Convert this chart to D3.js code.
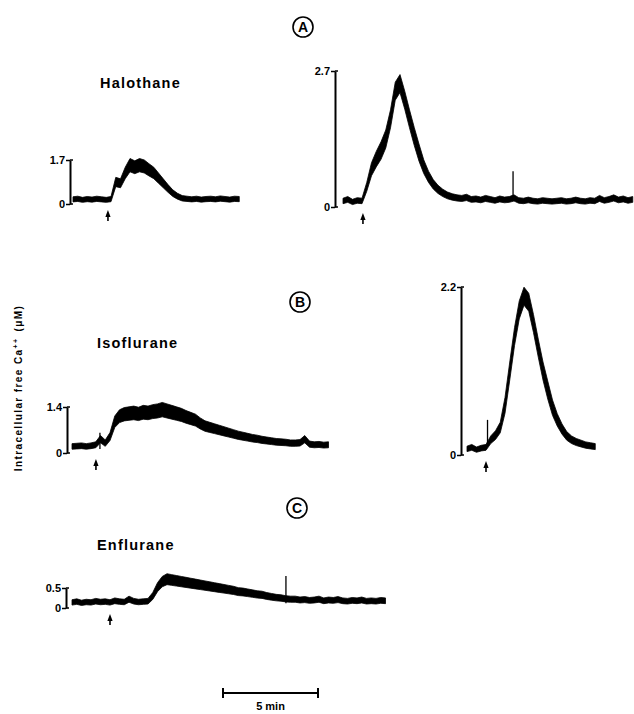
<!DOCTYPE html>
<html>
<head>
<meta charset="utf-8">
<script src="https://cdn.jsdelivr.net/npm/d3@7"></script>
<style>
body { margin: 0; background: #fff; }
svg { display: block; font-family: "Liberation Sans", Arial, sans-serif; }
</style>
</head>
<body>
<svg id="chart"></svg>
<script>
// sampling interval of the traces, minutes
const step = 0.25

// intracellular free Ca2+ (uM)
const halothaneLow = [0.18, 0.2, 0.16, 0.19, 0.17, 0.2, 0.18, 0.16, 0.19,
    0.85, 0.8, 1.2, 1.5, 1.42, 1.5, 1.45, 1.32, 1.2, 1.0, 0.8, 0.6, 0.42, 0.3, 0.22,
    0.2, 0.18, 0.2, 0.17, 0.19, 0.2, 0.18, 0.21, 0.19, 0.17, 0.2, 0.19]
const halothaneHigh = [0.12, 0.15, 0.1, 0.13, 0.12,
    0.4, 0.75, 0.95, 1.12, 1.35, 1.75, 2.3, 2.45, 2.12, 1.75, 1.4, 1.08, 0.8, 0.6, 0.45, 0.35, 0.28, 0.23,
    0.2, 0.18, 0.17, 0.19, 0.15, 0.16, 0.14, 0.17, 0.15, 0.13, 0.16, 0.14, 0.15, 0.18, 0.13,
    0.12, 0.14, 0.12, 0.11, 0.13, 0.12, 0.11, 0.12, 0.13, 0.11, 0.12, 0.14, 0.12, 0.11, 0.13,
    0.12, 0.17, 0.13, 0.15, 0.18, 0.14, 0.16, 0.13, 0.15]
const isofluraneLow = [0.2, 0.21, 0.22, 0.2, 0.22, 0.25,
    0.42, 0.3, 0.5, 0.95, 1.12, 1.18, 1.2, 1.22, 1.19, 1.24, 1.22, 1.26, 1.28, 1.32,
    1.28, 1.24, 1.2, 1.16, 1.1, 1.05, 1.0, 0.9, 0.82, 0.78, 0.74, 0.7, 0.66, 0.62, 0.58,
    0.54, 0.51, 0.48, 0.45, 0.43, 0.4, 0.38, 0.36, 0.34, 0.33, 0.32, 0.3, 0.3, 0.31, 0.42,
    0.27, 0.25, 0.26, 0.24, 0.25]
const isofluraneHigh = [0.08, 0.1, 0.07, 0.09, 0.1, 0.2, 0.26, 0.36, 0.65, 1.1, 1.55, 1.9, 2.08, 2.0,
    1.72, 1.4, 1.1, 0.85, 0.62, 0.46, 0.34, 0.25, 0.2, 0.17, 0.15, 0.13, 0.12, 0.11]
const enflurane = [0.14, 0.16, 0.13, 0.15, 0.14, 0.17, 0.15, 0.16, 0.14, 0.18, 0.16, 0.15, 0.22, 0.17, 0.15, 0.16, 0.17,
    0.3, 0.52, 0.66, 0.72, 0.7, 0.68, 0.66, 0.64, 0.62, 0.6, 0.58, 0.56, 0.54, 0.52, 0.5, 0.48, 0.46,
    0.44, 0.41, 0.4, 0.38, 0.36, 0.34, 0.33, 0.3, 0.28, 0.26, 0.25, 0.23, 0.22, 0.22, 0.2,
    0.21, 0.19, 0.2, 0.22, 0.18, 0.2, 0.19, 0.21, 0.18, 0.17, 0.19, 0.18, 0.2, 0.17, 0.18, 0.17, 0.19, 0.18]

const traces = [halothaneLow, halothaneHigh, isofluraneLow, isofluraneHigh, enflurane]
const calibMax = [1.7, 2.7, 1.4, 2.2, 0.5]
// time of anaesthetic addition (arrow), minutes from trace start
const stimulusTimes = [1.84, 1.05, 1.26, 1.0, 2.0]
// single sharp artefacts on the traces: [minutes, uM]
const spikes = [[], [[8.95, 0.71]], [[1.47, 0.62]], [[1.08, 0.46]], [[11.26, 0.8]]]

const titles = ['Halothane', 'Isoflurane', 'Enflurane']
const sectionLetters = ['A', 'B', 'C']
const yLabel = 'Intracellular free Ca'
const scaleBarMinutes = 5
const scaleBarLabel = '5 min'

// layout
const svgWidth = 634
const svgHeight = 714
const pxPerMin = 19

const panels = [
    { axisX: 70, x0: 73, yZero: 204, yTop: 160 },
    { axisX: 335, x0: 343, yZero: 207, yTop: 71 },
    { axisX: 67, x0: 72, yZero: 453, yTop: 407 },
    { axisX: 461, x0: 467, yZero: 455, yTop: 287 },
    { axisX: 66, x0: 72, yZero: 608, yTop: 588 }
]
const titlePos = [[100, 88], [97, 348], [97, 550]]
const letterPos = [[303, 27], [300, 302], [297, 508]]

const svg = d3.select('#chart')
    .attr('width', svgWidth)
    .attr('height', svgHeight)

traces.forEach((values, index) => {
    const p = panels[index]
    const dur = (values.length - 1) * step

    const x = d3.scaleLinear()
        .domain([0, dur])
        .range([p.x0, p.x0 + dur * pxPerMin])
    const y = d3.scaleLinear()
        .domain([0, calibMax[index]])
        .range([p.yZero, p.yTop])

    // noise band gets wider with the signal
    const halfWidth = d => Math.min(9, 2 + 0.12 * (y(0) - y(d)))

    const area = d3.area()
        .x((d, i) => x(i * step))
        .y0(d => y(d) + halfWidth(d))
        .y1(d => y(d) - halfWidth(d))

    svg.append('path')
        .datum(values)
        .attr('d', area)
        .attr('fill', '#000')
        .attr('stroke', '#000')
        .attr('stroke-width', 0.8)
        .attr('stroke-linejoin', 'round')

    svg.selectAll(null)
        .data(spikes[index])
        .enter()
        .append('line')
        .attr('x1', d => x(d[0]))
        .attr('x2', d => x(d[0]))
        .attr('y1', y(0.12))
        .attr('y2', d => y(d[1]))
        .attr('stroke', '#000')
        .attr('stroke-width', 1.3)

    // calibration bar
    const axis = d3.axisLeft(y)
        .tickValues([0, calibMax[index]])
        .tickSize(4)
        .tickSizeOuter(0)
        .tickPadding(1)
        .tickFormat(d => d === 0 ? '0' : d3.format('.1f')(d))

    const g = svg.append('g')
        .attr('transform', `translate(${p.axisX},0)`)
        .call(axis)
        .attr('font-family', '"Liberation Sans", Arial, sans-serif')
        .attr('font-size', 11)
        .attr('font-weight', 'bold')
    g.select('.domain').attr('stroke-width', 2)
    g.selectAll('.tick line').attr('stroke-width', 1.5)
    g.selectAll('.tick text').attr('dy', '0.35em')

    // caps on the right of the bar
    ;[0, calibMax[index]].forEach(v => {
        svg.append('line')
            .attr('x1', p.axisX)
            .attr('x2', p.axisX + 3)
            .attr('y1', y(v))
            .attr('y2', y(v))
            .attr('stroke', '#000')
            .attr('stroke-width', 1.5)
    })

    // stimulus arrow
    const ax = x(stimulusTimes[index])
    const ay = p.yZero + 6
    svg.append('path')
        .attr('d', `M${ax},${ay} L${ax - 2.6},${ay + 7} L${ax + 2.6},${ay + 7} Z`)
        .attr('fill', '#000')
    svg.append('line')
        .attr('x1', ax)
        .attr('x2', ax)
        .attr('y1', ay + 5)
        .attr('y2', ay + 11)
        .attr('stroke', '#000')
        .attr('stroke-width', 1.6)
})

// drug names
titles.forEach((t, i) => {
    svg.append('text')
        .attr('x', titlePos[i][0])
        .attr('y', titlePos[i][1])
        .attr('font-size', 14.5)
        .attr('font-weight', 'bold')
        .attr('letter-spacing', 1.2)
        .text(t)
})

// section letters
sectionLetters.forEach((l, i) => {
    svg.append('circle')
        .attr('cx', letterPos[i][0])
        .attr('cy', letterPos[i][1])
        .attr('r', 10)
        .attr('fill', 'none')
        .attr('stroke', '#000')
        .attr('stroke-width', 1.6)
    svg.append('text')
        .attr('x', letterPos[i][0])
        .attr('y', letterPos[i][1] + 5)
        .attr('text-anchor', 'middle')
        .attr('font-size', 14)
        .attr('font-weight', 'bold')
        .text(l)
})

// y label
const yl = svg.append('text')
    .attr('transform', 'translate(22,388) rotate(-90)')
    .attr('text-anchor', 'middle')
    .attr('font-size', 10)
    .attr('font-weight', 'bold')
    .attr('letter-spacing', 1.4)
yl.append('tspan').text(yLabel)
yl.append('tspan').attr('dy', -4).attr('font-size', 7).text('++')
yl.append('tspan').attr('dy', 4).attr('dx', 6).text('(\u03bcM)')

// time scale bar
const tScale = d3.scaleLinear().domain([0, scaleBarMinutes]).range([223, 223 + scaleBarMinutes * pxPerMin])
const barY = 693
svg.append('line')
    .attr('x1', tScale(0)).attr('x2', tScale(scaleBarMinutes))
    .attr('y1', barY).attr('y2', barY)
    .attr('stroke', '#000').attr('stroke-width', 2)
;[0, scaleBarMinutes].forEach(v => {
    svg.append('line')
        .attr('x1', tScale(v)).attr('x2', tScale(v))
        .attr('y1', barY - 5).attr('y2', barY + 5)
        .attr('stroke', '#000').attr('stroke-width', 2)
})
svg.append('text')
    .attr('x', tScale(scaleBarMinutes / 2))
    .attr('y', 710)
    .attr('text-anchor', 'middle')
    .attr('font-size', 11)
    .attr('font-weight', 'bold')
    .text(scaleBarLabel)
</script>
</body>
</html>
